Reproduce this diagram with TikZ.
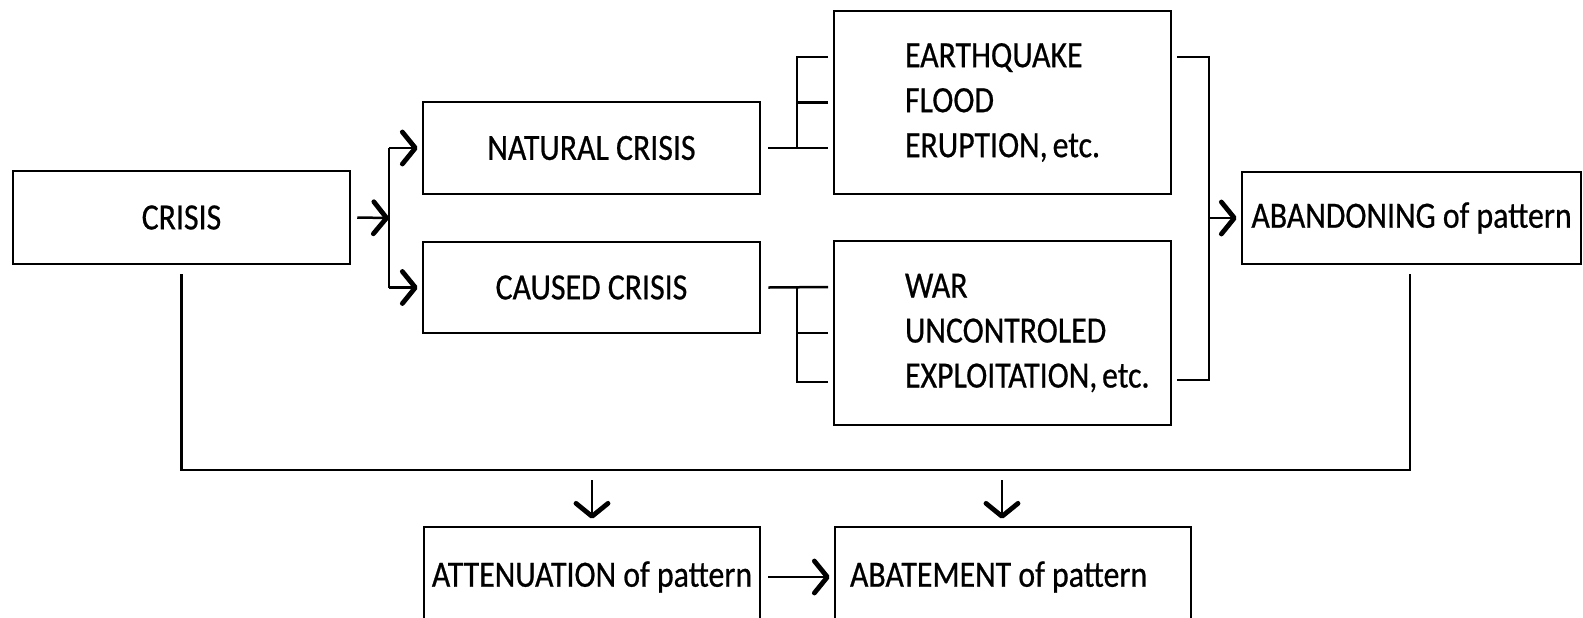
\documentclass[tikz,border=0pt]{standalone}
\usepackage{fontspec}
\setmainfont{Carlito}[FakeStretch=0.86,FakeBold=0.6]
\usetikzlibrary{arrows.meta}

\begin{document}
\begin{tikzpicture}[x=0.5pt,y=-0.5pt,
  font=\fontsize{18.5}{22.5}\selectfont\frenchspacing,
  box/.style={draw,line width=1.25pt,inner sep=0pt,align=center,
    execute at begin node={\spaceskip=0pt\xspaceskip=0pt}},
  link/.style={line width=1.25pt},
  arr/.style={link,-{Straight Barb[length=6.5pt,width=16pt,line width=2.4pt,round]}}]
\useasboundingbox (0,0) rectangle (1583,617);
% boxes
\node [box,minimum width=168.5pt,minimum height=46.5pt] (crisis) at (181.5,217.5) {CRISIS};
\node [box,minimum width=168.5pt,minimum height=46pt] (natural) at (591.5,148) {NATURAL CRISIS};
\node [box,minimum width=168.5pt,minimum height=45.5pt] (caused) at (591.5,287.5) {CAUSED CRISIS};
\node [box,minimum width=168.5pt,minimum height=91.5pt,align=flush left,text width=97.5pt] (quake) at (1002.5,102.5) {EARTHQUAKE\\FLOOD\\ERUPTION,~etc.};
\node [box,minimum width=168.5pt,minimum height=92pt,align=flush left,text width=97.5pt] (war) at (1002.5,333) {WAR\\UNCONTROLED\\EXPLOITATION,~etc.};
\node [box,minimum width=169.5pt,minimum height=46pt] (abandon) at (1411.5,218) {ABANDONING of pattern};
\node [box,minimum width=168pt,minimum height=50pt] (atten) at (592,577) {ATTENUATION of pattern};
\node [box,minimum width=178pt,minimum height=50pt,align=flush left,text width=163pt] (abate) at (1013,577) {ABATEMENT of pattern};
% crisis splits
\coordinate (split) at (389,218);
\draw [arr] ([xshift=3pt]crisis.east) -- (split);
\draw [link] (split |- natural.west) -- (split |- caused.west);
\draw [arr] (split |- natural.west) -- ([xshift=-2pt]natural.west);
\draw [arr] (split |- caused.west) -- ([xshift=-2pt]caused.west);
% kinds of crisis
\coordinate (nq) at (797,148);
\coordinate (q1) at (828,57);
\coordinate (q2) at (828,102.5);
\coordinate (q3) at (828,148);
\draw [link] ([xshift=3.5pt]natural.east) -- (q3);
\draw [link] (q1) -| (nq);
\draw [link] (q2) -- (q2 -| nq);
\coordinate (cw) at (797,287);
\coordinate (w1) at (828,287);
\coordinate (w2) at (828,333);
\coordinate (w3) at (828,382);
\draw [link] ([xshift=3.5pt]caused.east) -- (w1);
\draw [link] (w3) -| (cw);
\draw [link] (w2) -- (w2 -| cw);
% to abandoning
\coordinate (join) at (1209,218);
\coordinate (j1) at (1177,57);
\coordinate (j2) at (1177,380);
\draw [link] (j1) -| (join) |- (j2);
\draw [arr] (join) -- ([xshift=-2pt]abandon.west);
% bottom line
\coordinate (lb) at (183,470);
\coordinate (rb) at (1410,470);
\draw [link] ([yshift=-4.5pt]crisis.south) |- (lb) -- (rb) -- ([yshift=-4.5pt]abandon.south -| rb);
\draw [arr] ([yshift=-5pt]atten.north |- lb) -- ([yshift=3.5pt]atten.north);
\draw [arr] ([xshift=-5.5pt,yshift=-5pt]abate.north |- lb) -- ([xshift=-5.5pt,yshift=3.5pt]abate.north);
\draw [arr] ([xshift=3.5pt]atten.east) -- ([xshift=-2pt]abate.west);
\end{tikzpicture}
\end{document}
